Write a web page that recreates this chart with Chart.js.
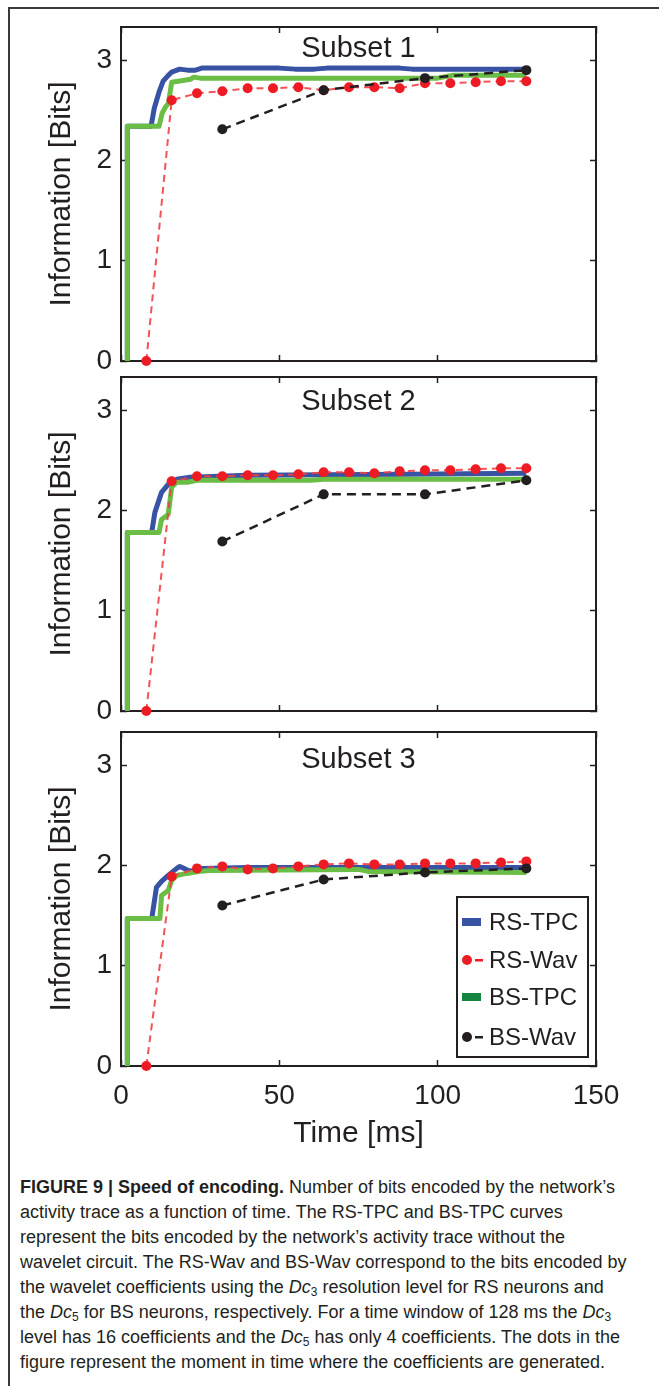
<!DOCTYPE html>
<html>
<head>
<meta charset="utf-8">
<script src="https://cdn.jsdelivr.net/npm/chart.js@4.4.1/dist/chart.umd.min.js"></script>
<style>
  html, body { margin: 0; padding: 0; background: #fff; }
  body { width: 659px; height: 1386px; position: relative; overflow: hidden;
         font-family: 'Liberation Sans', Arial, Helvetica, sans-serif; color: #231f20; }
  #frame { position: absolute; left: 8px; top: 7px; width: 700px; height: 1400px;
           border-left: 2px solid #3a3a3a; border-top: 2px solid #3a3a3a; }
  canvas { position: absolute; left: 0; }
  #caption { position: absolute; left: 20px; top: 1175px; font-size: 18px; line-height: 25px;
             font-family: 'Liberation Sans Narrow', 'Liberation Sans', Arial, sans-serif;
             transform-origin: 0 0; white-space: nowrap; }
  #caption div { white-space: nowrap; }
  #caption span.l { display: inline-block; }
  #caption sub { font-size: 12px; font-style: normal; vertical-align: -3px; line-height: 0; }
</style>
</head>
<body>
<div id="frame"></div>
<canvas id="panel1" width="659" height="352" style="top:17px"></canvas>
<canvas id="panel2" width="659" height="352" style="top:367px"></canvas>
<canvas id="panel3" width="659" height="438" style="top:722px"></canvas>
<div id="caption">
  <div><span class="l"><b>FIGURE 9 | Speed of encoding.</b> Number of bits encoded by the network’s</span></div>
  <div><span class="l">activity trace as a function of time. The RS-TPC and BS-TPC curves</span></div>
  <div><span class="l">represent the bits encoded by the network’s activity trace without the</span></div>
  <div><span class="l">wavelet circuit. The RS-Wav and BS-Wav correspond to the bits encoded by</span></div>
  <div><span class="l">the wavelet coefficients using the <i>Dc</i><sub>3</sub> resolution level for RS neurons and</span></div>
  <div><span class="l">the <i>Dc</i><sub>5</sub> for BS neurons, respectively. For a time window of 128 ms the <i>Dc</i><sub>3</sub></span></div>
  <div><span class="l">level has 16 coefficients and the <i>Dc</i><sub>5</sub> has only 4 coefficients. The dots in the</span></div>
  <div><span class="l">figure represent the moment in time where the coefficients are generated.</span></div>
</div>
<script>
// axis ticks and names
const xTicks = [0, 50, 100, 150];
const yTicks = [0, 1, 2, 3];
const subsetTitles = ['Subset 1', 'Subset 2', 'Subset 3'];
const seriesNames = ['RS-TPC', 'RS-Wav', 'BS-TPC', 'BS-Wav'];

// wavelet coefficient times (ms): Dc3 -> 16 coefs, Dc5 -> 4 coefs
const timeRsWav = [8, 16, 24, 32, 40, 48, 56, 64, 72, 80, 88, 96, 104, 112, 120, 128];
const timeBsWav = [32, 64, 96, 128];

// Subset 1
const rsTpc1 = [[2, 0], [2, 2.34], [9.5, 2.34], [10.5, 2.52], [12, 2.68], [13.3, 2.79], [15, 2.85], [16, 2.88],
  [18.5, 2.91], [21, 2.90], [23.5, 2.90], [25.5, 2.92], [50, 2.92], [55, 2.91], [61, 2.91], [65, 2.92],
  [88, 2.92], [92, 2.91], [128, 2.91]];
const bsTpc1 = [[2, 0], [2, 2.34], [12, 2.34], [13, 2.47], [14, 2.53], [15, 2.57], [16, 2.78], [18, 2.79],
  [20, 2.80], [22, 2.81], [23, 2.83], [25, 2.82], [100, 2.82], [105, 2.85], [128, 2.85]];
const rsWav1 = [0, 2.60, 2.67, 2.69, 2.72, 2.72, 2.73, 2.70, 2.73, 2.73, 2.72, 2.77, 2.77, 2.78, 2.79, 2.79];
const bsWav1 = [2.31, 2.70, 2.82, 2.90];

// Subset 2
const rsTpc2 = [[2, 0], [2, 1.78], [9.7, 1.78], [10.7, 1.98], [12.8, 2.18], [14.9, 2.26], [17.6, 2.31],
  [21.8, 2.33], [40, 2.35], [90, 2.36], [128, 2.37]];
const bsTpc2 = [[2, 0], [2, 1.78], [12, 1.78], [12.8, 1.91], [14.9, 1.96], [16, 2.23], [17.6, 2.28],
  [21, 2.28], [24, 2.30], [60, 2.30], [64, 2.31], [128, 2.31]];
const rsWav2 = [0, 2.29, 2.34, 2.34, 2.35, 2.35, 2.36, 2.38, 2.38, 2.37, 2.39, 2.40, 2.40, 2.41, 2.42, 2.42];
const bsWav2 = [1.69, 2.16, 2.16, 2.30];

// Subset 3
const rsTpc3 = [[2, 0], [2, 1.47], [9.7, 1.47], [11.2, 1.78], [12.8, 1.84], [14.9, 1.90], [17.6, 1.97],
  [18.6, 1.99], [21.3, 1.95], [23.3, 1.94], [25.4, 1.97], [40, 1.98], [128, 1.98]];
const bsTpc3 = [[2, 0], [2, 1.47], [12.3, 1.47], [12.8, 1.70], [14.9, 1.75], [16, 1.85], [17.6, 1.90],
  [20.7, 1.92], [24.4, 1.94], [28, 1.95], [75, 1.96], [78, 1.94], [128, 1.93]];
const rsWav3 = [0, 1.89, 1.97, 1.99, 1.96, 1.97, 1.99, 2.01, 2.02, 2.01, 2.01, 2.02, 2.02, 2.02, 2.03, 2.04];
const bsWav3 = [1.60, 1.86, 1.93, 1.97];

const FONT = "'Liberation Sans', Arial, Helvetica, sans-serif";
const INK = '#231f20';
const BLUE = '#3953a4';
const GREEN = '#6abd45';
const GREEN_KEY = '#15853f';
const RED = '#ed1c24';
const RED_LINE = 'rgba(239, 64, 70, 0.9)';

Chart.defaults.font.family = FONT;
Chart.defaults.color = INK;

function toPoints(times, vals) {
  return times.map((t, i) => ({ x: t, y: vals[i] }));
}
function pairPoints(pairs) {
  return pairs.map(p => ({ x: p[0], y: p[1] }));
}

// "Subset N" drawn inside the box, like the MATLAB title
function titlePlugin(text, offset) {
  return {
    id: 'subsetTitle',
    afterDraw(chart) {
      const { ctx, chartArea: a } = chart;
      ctx.save();
      ctx.font = '29px ' + FONT;
      ctx.fillStyle = INK;
      ctx.textAlign = 'center';
      ctx.textBaseline = 'alphabetic';
      ctx.fillText(text, (a.left + a.right) / 2, a.top + offset);
      ctx.restore();
    }
  };
}

// boxed legend in the lower right corner of the last panel
const boxLegend = {
  id: 'boxLegend',
  afterDatasetsDraw(chart) {
    const { ctx, chartArea: a } = chart;
    const w = 131, h = 160;
    const x0 = a.right - 8 - w, y0 = a.bottom - 9 - h;
    const rows = [25, 63, 100, 140];
    const keyColors = [BLUE, RED, GREEN_KEY, INK];
    ctx.save();
    ctx.fillStyle = '#fff';
    ctx.fillRect(x0, y0, w, h);
    ctx.lineWidth = 2;
    ctx.strokeStyle = INK;
    ctx.strokeRect(x0, y0, w, h);
    ctx.font = '24px ' + FONT;
    ctx.textBaseline = 'middle';
    ctx.textAlign = 'left';
    seriesNames.forEach((name, i) => {
      const y = y0 + rows[i];
      ctx.fillStyle = keyColors[i];
      if (i % 2 === 0) {
        ctx.fillRect(x0 + 5, y - 4, 19, 8);
      } else {
        ctx.beginPath();
        ctx.arc(x0 + 10, y, 5, 0, Math.PI * 2);
        ctx.fill();
        ctx.fillRect(x0 + 18, y - 1, 8, 2.5);
      }
      ctx.fillStyle = INK;
      ctx.fillText(name, x0 + 32, y + 1);
    });
    ctx.restore();
  }
};

function axisStyle() {
  return {
    border: { display: true, width: 2, color: INK },
    grid: { drawOnChartArea: false, tickLength: -6, tickWidth: 1.5, tickColor: INK }
  };
}

// pin the plot box: no extra margins for labels hanging over the ends
function fixH(h) {
  return s => { s.height = h; s.paddingLeft = 0; s.paddingRight = 0; s.paddingTop = 0; s.paddingBottom = 0; };
}
function fixW(w) {
  return s => { s.width = w; s.paddingLeft = 0; s.paddingRight = 0; s.paddingTop = 0; s.paddingBottom = 0; };
}

function makePanel(id, idx, rsTpc, rsWav, bsTpc, bsWav, showX, titleOffset) {
  const plugins = [titlePlugin(subsetTitles[idx], titleOffset)];
  if (showX) plugins.push(boxLegend);
  new Chart(document.getElementById(id), {
    type: 'line',
    data: {
      datasets: [
        { label: seriesNames[0], data: pairPoints(rsTpc), borderColor: BLUE, borderWidth: 5,
          pointRadius: 0, order: 4, clip: false },
        { label: seriesNames[1], data: toPoints(timeRsWav, rsWav), borderColor: RED_LINE, borderWidth: 2,
          borderDash: [7, 5], pointRadius: 5, pointBackgroundColor: RED, pointBorderWidth: 0, order: 2, clip: false },
        { label: seriesNames[2], data: pairPoints(bsTpc), borderColor: GREEN, borderWidth: 5,
          pointRadius: 0, order: 3, clip: false },
        { label: seriesNames[3], data: toPoints(timeBsWav, bsWav), borderColor: INK, borderWidth: 2.5,
          borderDash: [9, 6], pointRadius: 5, pointBackgroundColor: INK, pointBorderWidth: 0, order: 1, clip: false }
      ]
    },
    options: {
      responsive: false,
      animation: false,
      devicePixelRatio: 1,
      layout: { padding: { top: 10, right: 63, bottom: showX ? 4 : 8, left: 0 } },
      elements: { line: { tension: 0, borderJoinStyle: 'round', borderCapStyle: 'butt' } },
      plugins: { legend: { display: false }, tooltip: { enabled: false } },
      scales: {
        x: Object.assign(axisStyle(), {
          type: 'linear', position: 'bottom', min: 0, max: 150,
          afterBuildTicks: s => { s.ticks = xTicks.map(v => ({ value: v })); },
          afterFit: fixH(showX ? 90 : 0),
          ticks: { display: showX, padding: 19, maxRotation: 0, font: { size: 28 }, color: INK },
          title: { display: showX, text: 'Time [ms]', color: INK,
                   font: { size: 30, lineHeight: 1.2 }, padding: { top: 0, bottom: 4 } }
        }),
        x2: Object.assign(axisStyle(), {
          type: 'linear', position: 'top', min: 0, max: 150,
          afterBuildTicks: s => { s.ticks = xTicks.map(v => ({ value: v })); },
          afterFit: fixH(0),
          ticks: { display: false }
        }),
        y: Object.assign(axisStyle(), {
          type: 'linear', position: 'left', min: 0, max: 3.33,
          afterBuildTicks: s => { s.ticks = yTicks.map(v => ({ value: v })); },
          afterFit: fixW(121),
          ticks: { padding: 15, font: { size: 28 }, color: INK },
          title: { display: true, text: 'Information [Bits]', color: INK,
                   font: { size: 30, lineHeight: 1.2 }, padding: { top: 44, bottom: 0 } }
        }),
        y2: Object.assign(axisStyle(), {
          type: 'linear', position: 'right', min: 0, max: 3.33,
          afterBuildTicks: s => { s.ticks = yTicks.map(v => ({ value: v })); },
          afterFit: fixW(0),
          ticks: { display: false }
        })
      }
    },
    plugins: plugins
  });
}

makePanel('panel1', 0, rsTpc1, rsWav1, bsTpc1, bsWav1, false, 30);
makePanel('panel2', 1, rsTpc2, rsWav2, bsTpc2, bsWav2, false, 33);
makePanel('panel3', 2, rsTpc3, rsWav3, bsTpc3, bsWav3, true, 36);

// squeeze the caption so its first line spans the same width as in the figure
function fitCaption() {
  const cap = document.getElementById('caption');
  const first = cap.querySelector('span.l');
  const w = first.getBoundingClientRect().width;
  if (w > 0) cap.style.transform = 'scaleX(' + (625 / w) + ')';
}
fitCaption();
if (document.fonts && document.fonts.ready) document.fonts.ready.then(fitCaption);
</script>
</body>
</html>
